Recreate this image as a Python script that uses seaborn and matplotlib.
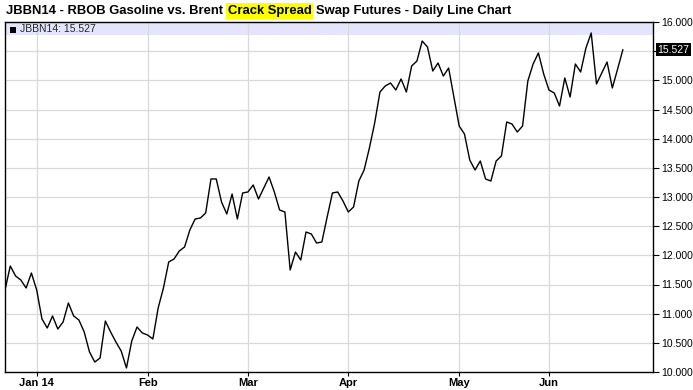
import matplotlib
matplotlib.use("Agg")
import matplotlib.pyplot as plt
from matplotlib.patches import Rectangle
from matplotlib.transforms import blended_transform_factory
import seaborn as sns
import pandas as pd
import numpy as np

# Daily closes (trading-day sequence)
values = [
    11.406, 11.817, 11.646, 11.577, 11.440, 11.697, 11.406, 10.909, 10.754, 10.960,
    10.737, 10.857, 11.183, 10.960, 10.891, 10.686, 10.343, 10.171, 10.240, 10.874,
    10.686, 10.514, 10.360, 10.069, 10.531, 10.771, 10.669, 10.634, 10.566, 11.097,
    11.440, 11.886, 11.937, 12.074, 12.143, 12.434, 12.623, 12.640, 12.726, 13.309,
    13.309, 12.914, 12.709, 13.051, 12.623, 13.069, 13.086, 13.206, 12.966, 13.154,
    13.343, 13.086, 12.777, 12.743, 11.749, 12.057, 11.920, 12.400, 12.366, 12.211,
    12.229, 12.657, 13.069, 13.086, 12.931, 12.743, 12.829, 13.274, 13.463, 13.840,
    14.269, 14.800, 14.903, 14.954, 14.834, 15.023, 14.800, 15.246, 15.331, 15.674,
    15.571, 15.160, 15.297, 15.074, 15.211, 14.714, 14.217, 14.080, 13.634, 13.463,
    13.617, 13.309, 13.274, 13.617, 13.703, 14.286, 14.251, 14.114, 14.217, 14.989,
    15.280, 15.469, 15.109, 14.834, 14.783, 14.560, 15.040, 14.714, 15.280, 15.143,
    15.554, 15.811, 14.937, 15.126, 15.314, 14.869, 15.194, 15.527,
]
month_tick_idx = [6, 27, 46, 65, 86, 103]
month_labels = ["Jan 14", "Feb", "Mar", "Apr", "May", "Jun"]
y_ticks = [10.0, 10.5, 11.0, 11.5, 12.0, 12.5, 13.0, 13.5, 14.0, 14.5, 15.0, 15.5, 16.0]
symbol = "JBBN14"
last_value = 15.527
title_a = "JBBN14 - RBOB Gasoline vs. Brent"
title_b = "Crack Spread"
title_c = "Swap Futures - Daily Line Chart"

sns.set_theme(style="white")
plt.rcParams['font.family'] = ['Liberation Sans', 'DejaVu Sans']

W, H = 693, 390
fig = plt.figure(figsize=(W / 100, H / 100), dpi=100)
ax = fig.add_axes([5 / W, 18 / H, 648 / W, 350 / H])

df = pd.DataFrame({"idx": np.arange(len(values)), "price": values})
sns.lineplot(data=df, x="idx", y="price", ax=ax, color="black", linewidth=1.0, zorder=3)

ax.set_xlim(0, 122.7)
ax.set_ylim(10, 16)
ax.set_xlabel("")
ax.set_ylabel("")

ax.set_xticks(month_tick_idx)
ax.set_xticklabels(month_labels, fontsize=8, fontweight="bold")
ax.set_yticks(y_ticks)
# the last-value badge takes the place of the nearby grid label
ylabels = ["" if abs(v - last_value) < 0.2 else f"{v:.3f}" for v in y_ticks]
ax.set_yticklabels(ylabels, fontsize=7.5)
ax.yaxis.tick_right()
ax.tick_params(axis="y", which="both", right=True, left=False, length=4, width=0.8,
               direction="out", pad=2, colors="black")
ax.tick_params(axis="x", bottom=True, length=3, width=0.8, direction="out", pad=1,
               colors="black")

ax.set_axisbelow(True)
ax.grid(True, color="#d9d9d9", linewidth=0.9)
for s in ax.spines.values():
    s.set_visible(True)
    s.set_color("black")
    s.set_linewidth(1.0)

# lavender legend band
ax.add_patch(Rectangle((0, 1 - 13 / 350), 1, 13 / 350, transform=ax.transAxes,
                       facecolor="#e4e4fa", edgecolor="none", zorder=0.4))

# last value label
trans = blended_transform_factory(ax.transAxes, ax.transData)
ax.text(1.007, last_value, f"{last_value:.3f}", transform=trans, fontsize=7.5,
        color="white", ha="left", va="center",
        bbox=dict(boxstyle="square,pad=0.15", fc="black", ec="none"), zorder=6,
        clip_on=False)

# legend marker + text
fig.add_artist(Rectangle((10 / W, 1 - 33 / H), 6 / W, 6 / H, transform=fig.transFigure,
                         facecolor="black", edgecolor="none", zorder=6))
fig.text(20 / W, 1 - 29.5 / H, f"{symbol}: {last_value:.3f}", fontsize=7.5,
         va="center", ha="left", zorder=6)

# title with highlighted phrase
tsize = 9.35
t1 = fig.text(5.5 / W, 1 - 11 / H, title_a, fontsize=tsize, fontweight="bold",
              va="center", ha="left", color="black")
t2 = ax.annotate(title_b, xy=(1, 0), xycoords=t1, xytext=(3.6, 0),
                 textcoords="offset points", fontsize=tsize, fontweight="bold",
                 va="bottom", ha="left", color="black", annotation_clip=False,
                 bbox=dict(boxstyle="square,pad=0.14", fc="#ffff00", ec="none"))
t3 = ax.annotate(title_c, xy=(1, 0), xycoords=t2, xytext=(3.6, 0),
                 textcoords="offset points", fontsize=tsize, fontweight="bold",
                 va="bottom", ha="left", color="black", annotation_clip=False)

fig.savefig("out.png", dpi=100)
